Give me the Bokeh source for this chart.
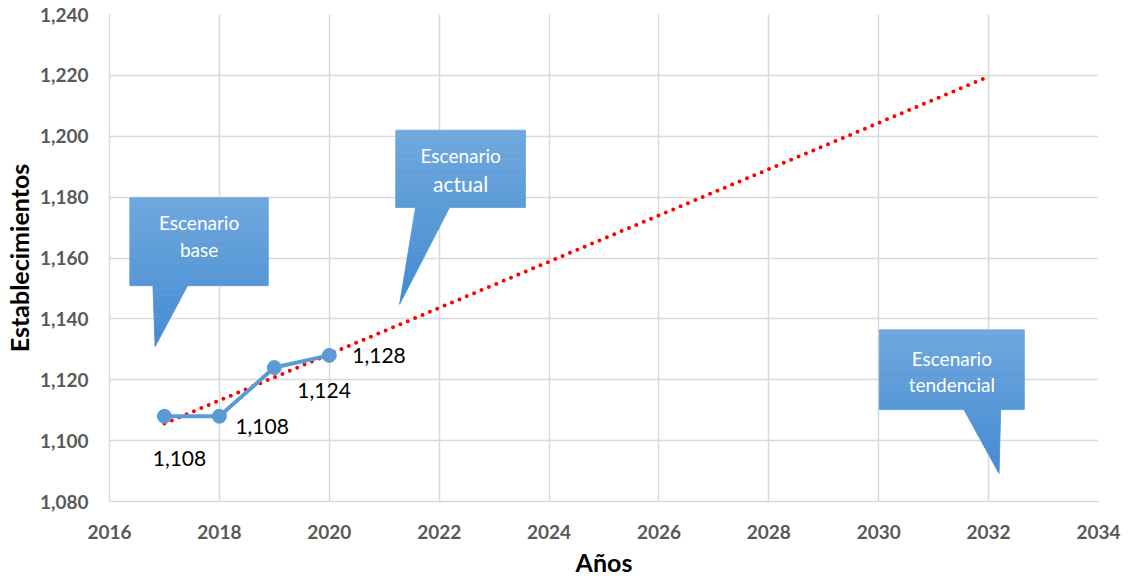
import numpy as np
from bokeh.plotting import figure
from bokeh.models import FixedTicker, NumeralTickFormatter, ColumnDataSource, Range1d
from bokeh.core.properties import value
from bokeh.embed import file_html
from bokeh.resources import INLINE

# ---- data ----
years = [2017, 2018, 2019, 2020]
establecimientos = [1108, 1108, 1124, 1128]
point_labels = ["1,108", "1,108", "1,124", "1,128"]
trend_years = [2017, 2032]
x_ticks = [2016, 2018, 2020, 2022, 2024, 2026, 2028, 2030, 2032, 2034]
y_ticks = [1080, 1100, 1120, 1140, 1160, 1180, 1200, 1220, 1240]
callout_lines = [["Escenario", "base"], ["Escenario", "actual"], ["Escenario", "tendencial"]]

# ---- annotation geometry (data units) ----
callout_box = [  # left, right, top, bottom
    (2016.37, 2018.89, 1179.8, 1150.9),
    (2021.21, 2023.57, 1202.0, 1176.6),
    (2030.01, 2032.65, 1136.4, 1110.2),
]
callout_ptr = [  # base x1, base x2, tip x, tip y
    (2016.79, 2017.42, 2016.83, 1130.9),
    (2021.57, 2022.19, 2021.28, 1144.8),
    (2031.55, 2032.22, 2032.19, 1089.2),
]
callout_line_offsets = [(25, 52), (25, 53), (29, 55)]
callout_font_sizes = [("19px", "19px"), ("19px", "21px"), ("19px", "19px")]
label_offsets = [(15, 42, "center"), (16, 10, "left"), (23, 23, "left"), (23, 0, "left")]

FONT = "Lato"
BLUE = "#5B9BD5"
GRID = "#D9D9D9"
GRAD_TOP = (0x70, 0xA8, 0xDE)
GRAD_TIP = (0x44, 0x8B, 0xD2)

p = figure(width=1130, height=579, output_backend="svg", toolbar_location=None,
           x_range=Range1d(2016, 2034), y_range=Range1d(1080, 1240),
           min_border_left=109, min_border_right=32, min_border_top=14, min_border_bottom=77)

p.outline_line_color = None
p.background_fill_color = "white"
p.border_fill_color = "white"

for ax in (p.xaxis[0], p.yaxis[0]):
    ax.major_tick_line_color = None
    ax.minor_tick_line_color = None
    ax.axis_line_color = GRID
    ax.axis_line_width = 1.5
    ax.major_label_text_font = FONT
    ax.major_label_text_font_style = "bold"
    ax.major_label_text_font_size = "19px"
    ax.major_label_text_color = "#595959"
    ax.axis_label_text_font = FONT
    ax.axis_label_text_font_style = "bold"
    ax.axis_label_text_font_size = "25px"
    ax.axis_label_text_color = "black"

p.xaxis.ticker = FixedTicker(ticks=x_ticks)
p.yaxis.ticker = FixedTicker(ticks=y_ticks)
p.yaxis.formatter = NumeralTickFormatter(format="0,0")
p.xaxis.axis_label = "Años"
p.yaxis.axis_label = "Establecimientos"
p.xaxis.major_label_standoff = 17
p.yaxis.major_label_standoff = 15
p.xaxis.axis_label_standoff = 5
p.yaxis.axis_label_standoff = 3

p.xgrid.ticker = FixedTicker(ticks=x_ticks)
p.ygrid.ticker = FixedTicker(ticks=y_ticks)
p.grid.grid_line_color = GRID
p.grid.grid_line_width = 1.5

# trend line (linear fit of the observed values)
coef = np.polyfit(years, establecimientos, 1)
trend_vals = [float(np.polyval(coef, yr)) for yr in trend_years]
p.line(trend_years, trend_vals, line_color="#FF0000", line_width=4,
       line_dash="0 8", line_cap="round")

# series
p.line(years, establecimientos, line_color=BLUE, line_width=4)
p.scatter(years, establecimientos, size=14, fill_color=BLUE, line_color=BLUE)

# data labels
src = ColumnDataSource(dict(
    x=years, y=establecimientos, t=point_labels,
    xo=[o[0] for o in label_offsets], yo=[o[1] for o in label_offsets],
    al=[o[2] for o in label_offsets]))
p.text(x="x", y="y", text="t", source=src, x_offset="xo", y_offset="yo",
       text_align="al", text_baseline="middle", text_font=value(FONT),
       text_font_size="21px", text_color="black")


def grad_color(frac):
    c = [round(a + (b - a) * frac) for a, b in zip(GRAD_TOP, GRAD_TIP)]
    return "#%02x%02x%02x" % tuple(c)


# callouts with a vertical gradient (banded)
NB = 24
for (l, r, t, b), (b1, b2, tx, ty), lines, offs, fs in zip(
        callout_box, callout_ptr, callout_lines, callout_line_offsets, callout_font_sizes):
    total = t - ty
    ys = np.linspace(t, b, NB + 1)
    cols = [grad_color(((ys[i] + ys[i + 1]) / 2 - t) / -total) for i in range(NB)]
    p.quad(left=[l] * NB, right=[r] * NB, top=list(ys[:-1]), bottom=list(ys[1:]),
           fill_color=cols, line_color=cols, line_width=0.8)
    ys2 = np.linspace(b, ty, NB + 1)
    pxs, pys, pcols = [], [], []
    for i in range(NB):
        ya, yb = ys2[i], ys2[i + 1]
        fa, fb = (b - ya) / (b - ty), (b - yb) / (b - ty)
        la, ra = b1 + (tx - b1) * fa, b2 + (tx - b2) * fa
        lb, rb = b1 + (tx - b1) * fb, b2 + (tx - b2) * fb
        pxs.append([la, ra, rb, lb])
        pys.append([ya, ya, yb, yb])
        pcols.append(grad_color(((ya + yb) / 2 - t) / -total))
    p.patches(pxs, pys, fill_color=pcols, line_color=pcols, line_width=0.8)
    cx = (l + r) / 2
    for line, off, size in zip(lines, offs, fs):
        p.text(x=[cx], y=[t], text=[line], y_offset=off, text_align="center",
               text_baseline="middle", text_font=value(FONT), text_font_size=size,
               text_color="white")

open("out.html", "w").write(file_html(p, INLINE))
